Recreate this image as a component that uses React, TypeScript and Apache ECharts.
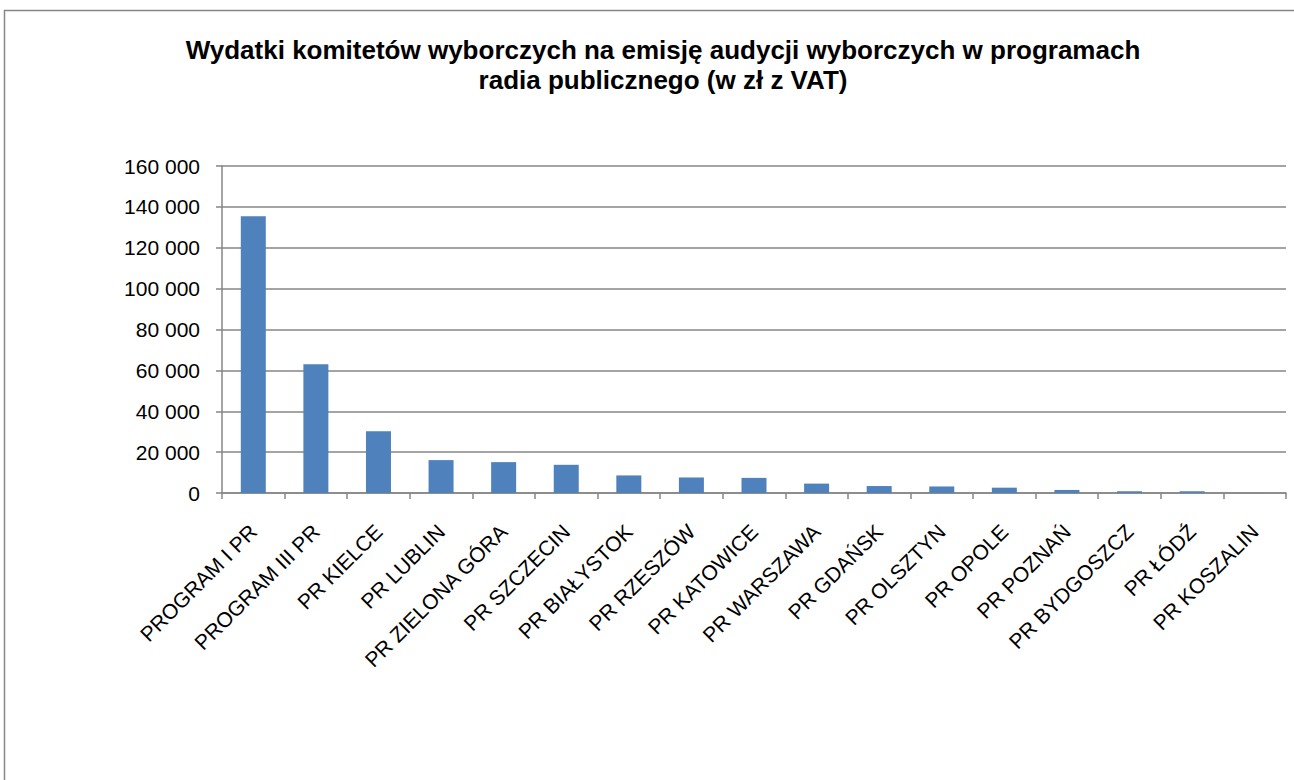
import React, { useEffect, useRef } from "react";
import * as echarts from "echarts";

const titleLines = [
  "Wydatki komitetów wyborczych na emisję audycji wyborczych w programach",
  "radia publicznego (w zł z VAT)",
];

const categories = [
  "PROGRAM I PR",
  "PROGRAM III PR",
  "PR KIELCE",
  "PR LUBLIN",
  "PR ZIELONA GÓRA",
  "PR SZCZECIN",
  "PR BIAŁYSTOK",
  "PR RZESZÓW",
  "PR KATOWICE",
  "PR WARSZAWA",
  "PR GDAŃSK",
  "PR OLSZTYN",
  "PR OPOLE",
  "PR POZNAŃ",
  "PR BYDGOSZCZ",
  "PR ŁÓDŹ",
  "PR KOSZALIN",
];

const values = [
  135400, 63000, 30200, 16100, 15100, 13800, 8600, 7600, 7400, 4600, 3400, 3200,
  2600, 1500, 850, 850, 0,
];

const yTicks = { min: 0, max: 160000, interval: 20000 };

const fmt = (v: number) => String(v).replace(/\B(?=(\d{3})+(?!\d))/g, " ");

const FONT = "Liberation Sans, Arial, sans-serif";

export default function App() {
  const ref = useRef<HTMLDivElement>(null);
  useEffect(() => {
    if (!ref.current) return;
    const chart = echarts.init(ref.current, undefined, { renderer: "svg" });
    chart.setOption({
      animation: false,
      backgroundColor: "#ffffff",
      textStyle: { fontFamily: FONT },
      graphic: [
        {
          type: "rect",
          shape: { x: 4.5, y: 10.5, width: 1400, height: 900 },
          style: { fill: "none", stroke: "#868686", lineWidth: 1.5 },
          silent: true,
        },
      ],
      title: {
        text: titleLines.join("\n"),
        left: 658,
        top: 30,
        textAlign: "center",
        textStyle: {
          fontSize: 26,
          fontWeight: "bold",
          color: "#000",
          lineHeight: 30,
          fontFamily: FONT,
        },
      },
      grid: { left: 222, right: 8, top: 166, bottom: 287, containLabel: false },
      xAxis: {
        type: "category",
        data: categories,
        axisLine: { show: true, lineStyle: { color: "#868686", width: 1.5 } },
        axisTick: { show: true, length: 6, lineStyle: { color: "#868686", width: 1.5 } },
        axisLabel: {
          rotate: 45,
          interval: 0,
          fontSize: 21,
          color: "#000",
          margin: 35,
          fontFamily: FONT,
        },
      },
      yAxis: {
        type: "value",
        min: yTicks.min,
        max: yTicks.max,
        interval: yTicks.interval,
        axisLine: { show: true, lineStyle: { color: "#868686", width: 1.5 } },
        axisTick: { show: true, length: 6, lineStyle: { color: "#868686", width: 1.5 } },
        splitLine: { show: true, lineStyle: { color: "#868686", width: 1.5 } },
        axisLabel: {
          fontSize: 21,
          color: "#000",
          margin: 22,
          formatter: (v: number) => fmt(v),
          fontFamily: FONT,
        },
      },
      series: [
        {
          type: "bar",
          data: values,
          barWidth: 25,
          itemStyle: { color: "#4F81BD" },
        },
      ],
    });
    return () => chart.dispose();
  }, []);
  return (
    <div
      ref={ref}
      style={{ position: "absolute", left: 0, top: 0, width: 1294, height: 780 }}
    />
  );
}
